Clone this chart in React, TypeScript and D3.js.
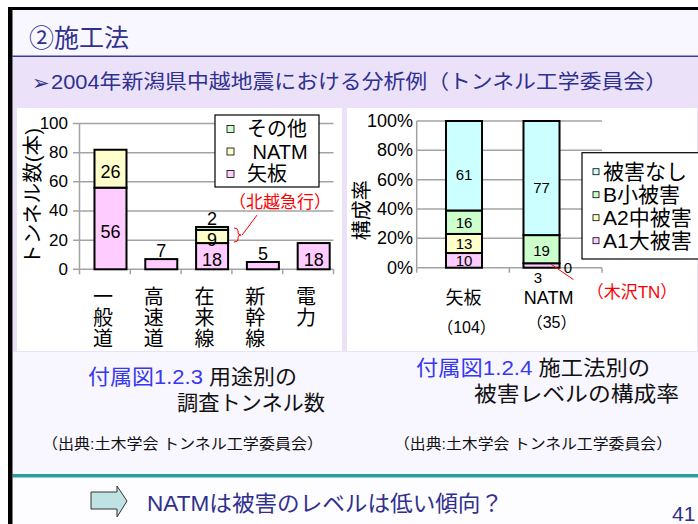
import React from 'react';
import * as d3 from 'd3';

// 付属図1.2.3 用途別の調査トンネル数
const usageCategories = ['一般道', '高速道', '在来線', '新幹線', '電力'];
const usageYaban = [56, 7, 18, 5, 18];
const usageNatm = [26, 0, 9, 0, 0];
const usageOther = [0, 0, 2, 0, 0];
const usageTicks = [0, 20, 40, 60, 80, 100];
const usageKeys = ['矢板', 'NATM', 'その他'];
const usageColors = ['#ffccff', '#ffffcc', '#ccffcc'];

// 付属図1.2.4 施工法別の被害レベルの構成率
const methodCategories = ['矢板', 'NATM'];
const methodCounts = ['（104）', '（35）'];
const damageA1 = [10, 3];
const damageA2 = [13, 0];
const damageB = [16, 19];
const damageNone = [61, 77];
const percentTicks = [0, 0.2, 0.4, 0.6, 0.8, 1];
const damageKeys = ['A1大被害', 'A2中被害', 'B小被害', '被害なし'];
const damageColors = ['#ffccff', '#ffffcc', '#ccffcc', '#ccffff'];

const FONT = '"Liberation Sans", "Noto Sans CJK JP", sans-serif';
const NAVY = '#30308f';
const GRID = '#a3a3a3';

function UsageChart() {
  const x = d3.scaleBand<string>().domain(usageCategories).range([79.5, 333.5]);
  const y = d3.scaleLinear().domain([0, 100]).range([269.3, 123.5]);
  const bw = x.bandwidth();

  const rows = usageCategories.map((c, i) => ({
    cat: c,
    矢板: usageYaban[i],
    NATM: usageNatm[i],
    その他: usageOther[i],
  }));
  const series = d3.stack<any>().keys(usageKeys)(rows);
  const totals = rows.map((r) => r.矢板 + r.NATM + r.その他);

  const barX = (c: string) => (x(c) as number) + bw * 0.295;
  const barW = bw * 0.63;
  const idxZai = 2;
  const zaiCat = usageCategories[idxZai];

  return (
    <g fontFamily={FONT}>
      {/* grid */}
      {usageTicks.map((t) => (
        <g key={t}>
          <line x1={73} x2={333.5} y1={y(t)} y2={y(t)} stroke={GRID} strokeWidth={1.5} />
          <text x={68} y={y(t)} textAnchor="end" dominantBaseline="central" fontSize={17}>
            {t}
          </text>
        </g>
      ))}
      <line x1={79.5} x2={79.5} y1={y(100)} y2={y(0)} stroke={GRID} strokeWidth={1.5} />
      {[...usageCategories.map((c) => x(c) as number), 333.5].map((tx, i) => (
        <line key={i} x1={tx} x2={tx} y1={y(0)} y2={y(0) + 5} stroke={GRID} strokeWidth={1.5} />
      ))}

      {/* bars */}
      {series.map((s, si) =>
        s.map((d, i) =>
          d[1] - d[0] > 0 ? (
            <rect
              key={`${si}-${i}`}
              x={barX(usageCategories[i])}
              y={y(d[1])}
              width={barW}
              height={y(d[0]) - y(d[1])}
              fill={usageColors[si]}
              stroke="#000"
              strokeWidth={2}
            />
          ) : null,
        ),
      )}

      {/* value labels */}
      {series.map((s, si) =>
        s.map((d, i) => {
          const v = d[1] - d[0];
          if (v <= 0) return null;
          const isTop = d[1] === totals[i];
          const cx = barX(usageCategories[i]) + barW / 2;
          const cy = isTop && v < 8 ? y(d[1]) - 8.5 : (y(d[0]) + y(d[1])) / 2 + 3.5;
          return (
            <text
              key={`l${si}-${i}`}
              x={cx}
              y={cy}
              textAnchor="middle"
              dominantBaseline="central"
              fontSize={18}
            >
              {v}
            </text>
          );
        }),
      )}

      {/* category labels (vertical) */}
      {usageCategories.map((c) => (
        <g key={c}>
          {c.split('').map((ch, k) => (
            <text
              key={k}
              x={(x(c) as number) + bw / 2 - 2}
              y={297 + k * 21}
              textAnchor="middle"
              dominantBaseline="central"
              fontSize={20}
            >
              {ch}
            </text>
          ))}
        </g>
      ))}

      {/* y title */}
      <text
        transform={`translate(33,${(y(0) + y(100)) / 2}) rotate(-90)`}
        textAnchor="middle"
        dominantBaseline="central"
        fontSize={20}
        textLength={137}
        lengthAdjust="spacingAndGlyphs"
      >
        トンネル数(本)
      </text>

      {/* legend */}
      <rect x={215} y={115} width={104} height={72} fill="#fff" stroke="#000" strokeWidth={1.2} />
      {[...usageKeys].reverse().map((k, i) => {
        const ci = usageKeys.length - 1 - i;
        const ly = 129 + i * 22.5;
        return (
          <g key={k}>
            <rect x={227} y={ly - 3.5} width={7} height={7} fill={usageColors[ci]} stroke="#000" strokeWidth={0.8} />
            <text x={247} y={ly} dominantBaseline="central" fontSize={20}>
              {k === 'NATM' ? '\u00a0NATM' : k}
            </text>
          </g>
        );
      })}

      {/* 北越急行 annotation */}
      {(() => {
        const bx = barX(zaiCat) + barW + 6;
        const top = y(totals[idxZai]) + 1;
        const bot = y(usageYaban[idxZai]) - 1;
        const mid = (top + bot) / 2;
        return (
          <g stroke="#ff0000" fill="none" strokeWidth={1}>
            <path
              d={`M${bx},${top} Q${bx + 4},${top} ${bx + 4},${top + 3} L${bx + 4},${mid - 2} Q${bx + 4},${mid} ${bx + 7},${mid} Q${bx + 4},${mid} ${bx + 4},${mid + 2} L${bx + 4},${bot - 3} Q${bx + 4},${bot} ${bx},${bot}`}
            />
            <line x1={bx + 8} y1={mid} x2={bx + 23} y2={mid - 20} />
          </g>
        );
      })()}
      <text x={280} y={202} textAnchor="middle" dominantBaseline="central" fontSize={17} fill="#ff0000">
        （北越急行）
      </text>
    </g>
  );
}

function MethodChart() {
  const xb = d3.scaleBand<string>().domain(methodCategories).range([425.25, 580.25]);
  const xt = d3.scaleLinear().domain([0, methodCategories.length]).range([416.7, 602]);
  const y = d3.scaleLinear().domain([0, 1]).range([267.7, 121]);
  const bw = xb.bandwidth();
  const barW = bw * 0.465;
  const barX = (c: string) => (xb(c) as number) + (bw - barW) / 2;

  const rows = methodCategories.map((c, i) => ({
    cat: c,
    A1大被害: damageA1[i],
    A2中被害: damageA2[i],
    B小被害: damageB[i],
    被害なし: damageNone[i],
  }));
  const series = d3.stack<any>().keys(damageKeys).offset(d3.stackOffsetExpand)(rows);
  const labelX = (c: string, i: number) =>
    (barX(c) + barW / 2 + (xt(i) + xt(i + 1)) / 2) / 2;

  const natmX = barX('NATM');

  return (
    <g fontFamily={FONT}>
      {percentTicks.map((t) => (
        <g key={t}>
          <line x1={416.7} x2={602} y1={y(t)} y2={y(t)} stroke={GRID} strokeWidth={1.5} />
          <text x={413} y={y(t)} textAnchor="end" dominantBaseline="central" fontSize={18}>
            {d3.format('.0%')(t)}
          </text>
        </g>
      ))}
      <line x1={416.7} x2={416.7} y1={y(1)} y2={y(0)} stroke={GRID} strokeWidth={1.5} />
      {d3.range(methodCategories.length + 1).map((i) => (
        <line key={i} x1={xt(i)} x2={xt(i)} y1={y(0)} y2={y(0) + 5} stroke={GRID} strokeWidth={1.5} />
      ))}

      {series.map((s, si) =>
        s.map((d, i) =>
          d[1] - d[0] > 0 ? (
            <rect
              key={`${si}-${i}`}
              x={barX(methodCategories[i])}
              y={y(d[1])}
              width={barW}
              height={y(d[0]) - y(d[1])}
              fill={damageColors[si]}
              stroke="#000"
              strokeWidth={2}
            />
          ) : null,
        ),
      )}

      {series.map((s, si) =>
        s.map((d, i) => {
          const v = (d.data as any)[damageKeys[si]] as number;
          const cx = barX(methodCategories[i]) + barW / 2;
          const h = y(d[0]) - y(d[1]);
          let tx = cx;
          let ty = (y(d[0]) + y(d[1])) / 2 + Math.min(9, Math.max(0, (h - 20) * 0.12));
          if (v === 0) {
            tx = barX(methodCategories[i]) + barW + 8.5;
            ty = y(0);
          } else if (v < 5) {
            tx = cx - 3.5;
            ty = y(0) + 9.5;
          }
          return (
            <text
              key={`l${si}-${i}`}
              x={tx}
              y={ty}
              textAnchor="middle"
              dominantBaseline="central"
              fontSize={15}
            >
              {v}
            </text>
          );
        }),
      )}

      {methodCategories.map((c, i) => (
        <g key={c}>
          <text x={labelX(c, i)} y={298} textAnchor="middle" dominantBaseline="central" fontSize={18}>
            {c}
          </text>
          <text x={labelX(c, i) + 3} y={i === 0 ? 327 : 322} textAnchor="middle" dominantBaseline="central" fontSize={16}>
            {methodCounts[i]}
          </text>
        </g>
      ))}

      <text
        transform={`translate(362,${(y(0) + y(1)) / 2 + 16}) rotate(-90)`}
        textAnchor="middle"
        dominantBaseline="central"
        fontSize={20}
      >
        構成率
      </text>

      {/* legend */}
      <rect x={582} y={152.7} width={130} height={106.3} fill="#fff" stroke="#000" strokeWidth={1.2} />
      {[...damageKeys].reverse().map((k, i) => {
        const ci = damageKeys.length - 1 - i;
        const ly = 171.7 + i * 23;
        return (
          <g key={k}>
            <rect x={593} y={ly - 3} width={6} height={6} fill={damageColors[ci]} stroke="#000" strokeWidth={0.8} />
            <text x={603} y={ly} dominantBaseline="central" fontSize={21}>
              {k}
            </text>
          </g>
        );
      })}

      {/* 木沢TN annotation */}
      <line
        x1={natmX + barW * 0.76}
        y1={y(0.025)}
        x2={natmX + barW + 14}
        y2={y(0) + 12}
        stroke="#ff0000"
        strokeWidth={1}
      />
      <text x={632} y={292} textAnchor="middle" dominantBaseline="central" fontSize={17} fill="#ff0000">
        （木沢TN）
      </text>
    </g>
  );
}

export default function App() {
  return (
    <svg
      width={698}
      height={524}
      viewBox="0 0 698 524"
      style={{ position: 'absolute', left: 0, top: 0, display: 'block' }}
    >
      <rect x={0} y={0} width={698} height={524} fill="#fff" />
      {/* slide frame */}
      <rect x={12.5} y={10} width={686} height={46} fill="#f8f6fe" />
      <rect x={12.5} y={57} width={686} height={295} fill="#ebe2fa" />
      <rect x={12.5} y={352} width={686} height={122} fill="#f8f6fe" />
      <rect x={12.5} y={478} width={686} height={46} fill="#fdfcfe" />
      <line x1={12.5} x2={698} y1={56.2} y2={56.2} stroke="#3c3c96" strokeWidth={1.5} />
      <rect x={12.5} y={474} width={686} height={3.5} fill="#2a9d9d" />
      <rect x={8} y={7} width={690} height={3} fill="#000" />
      <rect x={8} y={7} width={4.5} height={517} fill="#000" />

      <text x={29} y={38} fontFamily={FONT} fontSize={25} fill={NAVY} dominantBaseline="central">
        ②施工法
      </text>
      <text x={32} y={82} fontFamily={FONT} fontSize={21} fill={NAVY} dominantBaseline="central">
        ➢
      </text>
      <text
        x={51}
        y={82}
        fontFamily={FONT}
        fontSize={20}
        fill={NAVY}
        dominantBaseline="central"
        textLength={616}
        lengthAdjust="spacingAndGlyphs"
      >
        2004年新潟県中越地震における分析例（トンネル工学委員会）
      </text>

      {/* chart panels */}
      <rect x={17} y={108} width={325} height={243} fill="#fff" />
      <rect x={347} y={108} width={350} height={243} fill="#fff" />

      <UsageChart />
      <MethodChart />

      {/* captions */}
      <g fontFamily={FONT} dominantBaseline="central">
        <text x={88} y={376} fontSize={21} textLength={209} lengthAdjust="spacingAndGlyphs">
          <tspan fill="#3838f0">付属図1.2.3</tspan>
          <tspan fill="#111"> 用途別の</tspan>
        </text>
        <text x={177} y={402} fontSize={21} fill="#111" textLength={148} lengthAdjust="spacingAndGlyphs">
          調査トンネル数
        </text>
        <text x={416} y={367} fontSize={21} textLength={234} lengthAdjust="spacingAndGlyphs">
          <tspan fill="#3838f0">付属図1.2.4</tspan>
          <tspan fill="#111"> 施工法別の</tspan>
        </text>
        <text x={474} y={393} fontSize={21} fill="#111" textLength={205} lengthAdjust="spacingAndGlyphs">
          被害レベルの構成率
        </text>
        <text x={42} y={443} fontSize={15} fill="#111" textLength={281} lengthAdjust="spacingAndGlyphs">
          （出典:土木学会 トンネル工学委員会）
        </text>
        <text x={394} y={443} fontSize={15} fill="#111" textLength={278} lengthAdjust="spacingAndGlyphs">
          （出典:土木学会 トンネル工学委員会）
        </text>

        <text x={147} y={503} fontSize={22} fill={NAVY} textLength={356} lengthAdjust="spacingAndGlyphs">
          NATMは被害のレベルは低い傾向？
        </text>
        <text x={672} y={513} fontSize={21} fill={NAVY}>
          41
        </text>
      </g>
      <polygon
        points="91,492 117,492 117,486 127,501 117,517 117,509 91,509"
        fill="#bfe3e3"
        stroke="#333"
        strokeWidth={1}
      />
    </svg>
  );
}
